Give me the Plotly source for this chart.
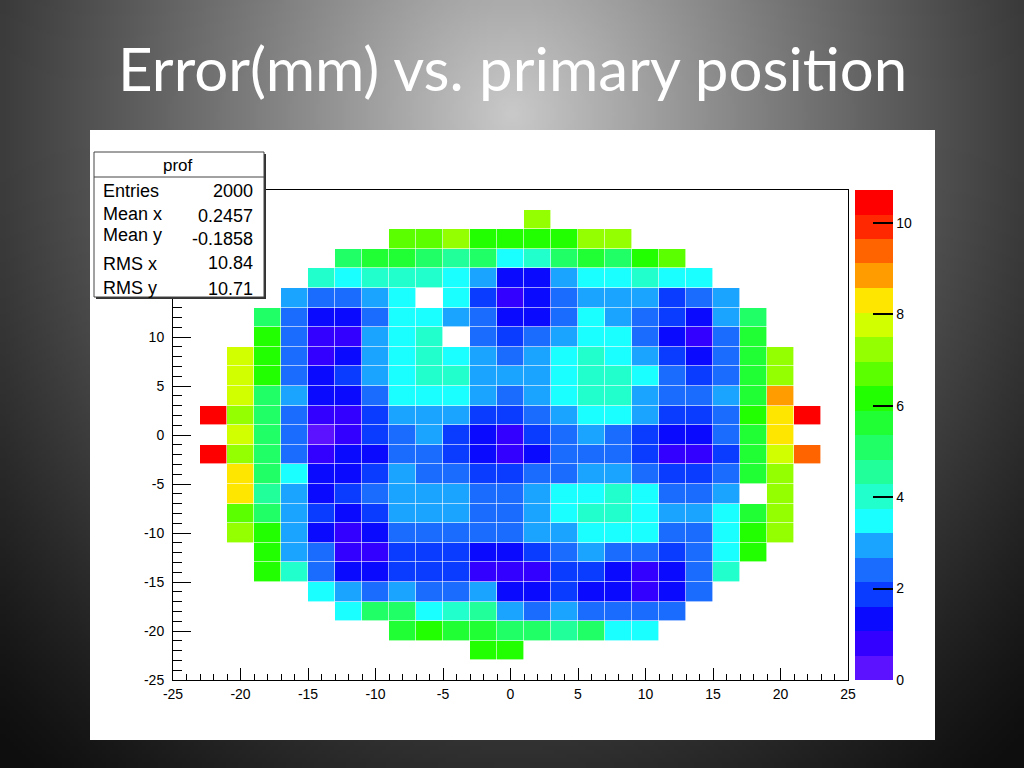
import base64
import struct
import zlib

import numpy as np
import plotly.graph_objects as go

N = None

# ---------------- data ----------------
x_centers = [-24, -22, -20, -18, -16, -14, -12, -10, -8, -6, -4, -2, 0,
             2, 4, 6, 8, 10, 12, 14, 16, 18, 20, 22, 24]
y_centers = [-24, -22, -20, -18, -16, -14, -12, -10, -8, -6, -4, -2, 0,
             2, 4, 6, 8, 10, 12, 14, 16, 18, 20, 22, 24]

# error (mm) per bin, one list per y bin, x from -24 to 24
z_y_m24 = [N, N, N, N, N, N, N, N, N, N, N, N, N, N, N, N, N, N, N, N, N, N, N, N, N]
z_y_m22 = [N, N, N, N, N, N, N, N, N, N, N, 6.2, 6.2, N, N, N, N, N, N, N, N, N, N, N, N]
z_y_m20 = [N, N, N, N, N, N, N, N, 5.6, 6.2, 5.6, 5.6, 5.1, 5.1, 4.6, 5.1, 3.5, 3.5, N, N, N, N, N, N, N]
z_y_m18 = [N, N, N, N, N, N, 3.5, 5.1, 5.1, 3.5, 4.0, 4.6, 2.9, 2.4, 2.9, 2.4, 2.4, 2.4, 2.4, N, N, N, N, N, N]
z_y_m16 = [N, N, N, N, N, 3.5, 2.9, 2.4, 2.9, 2.4, 2.4, 2.9, 1.3, 1.3, 1.9, 1.3, 1.3, 0.8, 1.3, 2.4, N, N, N, N, N]
z_y_m14 = [N, N, N, 6.2, 4.0, 2.4, 1.3, 1.3, 1.9, 1.9, 1.9, 0.8, 0.8, 0.8, 1.9, 1.9, 1.3, 0.8, 1.3, 2.4, 4.0, N, N, N, N]
z_y_m12 = [N, N, N, 6.2, 2.9, 2.4, 0.8, 0.8, 1.9, 1.9, 1.9, 1.3, 1.3, 1.9, 2.4, 2.9, 2.4, 2.4, 1.9, 2.4, 3.5, 6.2, N, N, N]
z_y_m10 = [N, N, 7.2, 6.2, 2.9, 1.3, 0.8, 1.3, 2.4, 2.4, 2.4, 2.4, 2.4, 2.9, 2.9, 3.5, 3.5, 3.5, 2.4, 2.4, 3.5, 6.2, 7.2, N, N]
z_y_m8 = [N, N, 6.7, 5.1, 2.9, 1.9, 1.3, 1.9, 2.9, 2.9, 2.9, 2.4, 2.4, 2.9, 3.5, 4.0, 4.0, 3.5, 2.9, 2.9, 3.5, 5.6, 7.2, N, N]
z_y_m6 = [N, N, 8.3, 4.6, 2.9, 1.3, 1.9, 2.4, 2.9, 2.9, 2.9, 2.4, 2.4, 2.9, 3.5, 3.5, 4.0, 3.5, 2.4, 2.4, 2.9, N, 7.2, N, N]
z_y_m4 = [N, N, 8.3, 5.1, 3.5, 1.3, 1.3, 1.9, 2.9, 2.4, 2.4, 1.9, 1.9, 2.4, 2.4, 2.9, 2.9, 2.4, 1.9, 1.9, 2.4, 5.6, 7.2, N, N]
z_y_m2 = [N, 10.5, 7.2, 5.1, 2.4, 0.8, 1.3, 1.3, 2.4, 2.4, 1.9, 1.3, 0.8, 1.3, 2.4, 2.4, 2.4, 1.9, 0.8, 0.8, 1.9, 5.6, 7.8, 9.4, N]
z_y_0 = [N, N, 7.8, 5.1, 2.4, 0.3, 0.8, 1.9, 2.4, 2.9, 1.9, 1.3, 0.8, 1.9, 2.4, 2.9, 2.4, 1.9, 1.3, 1.3, 2.4, 5.6, 8.3, N, N]
z_y_2 = [N, 10.5, 7.2, 5.1, 2.4, 0.8, 0.8, 1.9, 2.9, 2.9, 2.9, 1.9, 1.9, 2.4, 2.9, 3.5, 3.5, 2.9, 1.9, 1.9, 2.4, 6.2, 8.3, 10.5, N]
z_y_4 = [N, N, 7.8, 5.1, 2.9, 1.3, 1.3, 2.4, 3.5, 3.5, 3.5, 2.9, 2.4, 2.9, 3.5, 4.0, 4.0, 2.9, 2.4, 2.4, 2.9, 5.6, 8.8, N, N]
z_y_6 = [N, N, 7.8, 6.2, 2.4, 1.3, 1.9, 2.9, 3.5, 4.0, 4.0, 2.9, 2.9, 2.9, 3.5, 4.0, 4.0, 3.5, 2.4, 1.9, 2.4, 5.6, 7.2, N, N]
z_y_8 = [N, N, 7.8, 6.2, 2.4, 0.8, 1.3, 2.9, 3.5, 4.0, 3.5, 2.9, 2.4, 2.9, 3.5, 4.0, 3.5, 2.9, 1.9, 1.3, 2.4, 5.6, 7.2, N, N]
z_y_10 = [N, N, N, 6.2, 2.4, 0.8, 0.8, 2.9, 3.5, 4.0, N, 2.4, 1.9, 2.4, 2.9, 3.5, 3.5, 2.4, 1.3, 0.8, 2.4, 5.6, N, N, N]
z_y_12 = [N, N, N, 5.1, 2.4, 1.3, 1.3, 2.4, 3.5, 3.5, 2.9, 2.4, 1.3, 1.3, 2.4, 3.5, 2.9, 2.4, 1.9, 1.3, 2.9, 5.1, N, N, N]
z_y_14 = [N, N, N, N, 2.9, 2.4, 2.4, 2.9, 3.5, N, 3.5, 1.9, 0.8, 1.3, 2.4, 2.9, 2.9, 2.9, 1.9, 2.4, 2.9, N, N, N, N]
z_y_16 = [N, N, N, N, N, 4.0, 3.5, 4.0, 4.0, 4.0, 3.5, 2.9, 1.3, 1.3, 2.9, 3.5, 3.5, 4.0, 3.5, 3.5, N, N, N, N, N]
z_y_18 = [N, N, N, N, N, N, 5.1, 5.6, 5.6, 5.1, 4.6, 5.1, 3.5, 4.0, 5.1, 5.6, 5.1, 6.2, 6.7, N, N, N, N, N, N]
z_y_20 = [N, N, N, N, N, N, N, N, 6.7, 6.7, 7.2, 6.2, 6.2, 6.2, 6.2, 7.2, 7.2, N, N, N, N, N, N, N, N]
z_y_22 = [N, N, N, N, N, N, N, N, N, N, N, N, N, 7.2, N, N, N, N, N, N, N, N, N, N, N]
z_y_24 = [N, N, N, N, N, N, N, N, N, N, N, N, N, N, N, N, N, N, N, N, N, N, N, N, N]

z_rows = [z_y_m24, z_y_m22, z_y_m20, z_y_m18, z_y_m16, z_y_m14, z_y_m12, z_y_m10,
          z_y_m8, z_y_m6, z_y_m4, z_y_m2, z_y_0, z_y_2, z_y_4, z_y_6, z_y_8,
          z_y_10, z_y_12, z_y_14, z_y_16, z_y_18, z_y_20, z_y_22, z_y_24]

z_max = 10.72
x_tick_vals = [-25, -20, -15, -10, -5, 0, 5, 10, 15, 20, 25]
x_tick_text = ["-25", "-20", "-15", "-10", "-5", "0", "5", "10", "15", "20", "25"]
# labels 15..25 on the y axis sit under the statistics box in the reference
y_tick_vals = [-25, -20, -15, -10, -5, 0, 5, 10]
y_tick_text = ["-25", "-20", "-15", "-10", "-5", "0", "5", "10"]
cbar_tick_vals = [0, 2, 4, 6, 8, 10]
cbar_tick_text = ["0", "2", "4", "6", "8", "10"]

stat_title = "prof"
stat_labels = ["Entries", "Mean x", "Mean y", "RMS x", "RMS y"]
stat_values = ["2000", "0.2457", "-0.1858", "10.84", "10.71"]

title_text = "Error(mm) vs. primary position"

palette = ["#5c12ff", "#3300ff", "#0a0aff", "#0a3cff", "#1a6cff", "#1aa4ff",
           "#1affff", "#20ffcc", "#20ff99", "#20ff66", "#20ff33", "#22ff00",
           "#5cff00", "#94ff00", "#d2ff00", "#ffe600", "#ff9c00", "#ff6400",
           "#ff2800", "#ff0000"]

# ---------------- geometry helpers ----------------
W, H = 1024, 768


def px(x):
    return x / W


def py(y):
    return 1 - y / H


# ---------------- slide background (radial gradient PNG) ----------------
gw, gh = 256, 192
gx = (np.arange(gw) + 0.5) / gw * W
gy = (np.arange(gh) + 0.5) / gh * H
GX, GY = np.meshgrid(gx, gy)
t = np.sqrt(((GX - 512) / 760.0) ** 2 + ((GY - 115) / 860.0) ** 2)
v = 14 + 188 * np.clip(1 - t, 0, 1) ** 1.25
img = np.repeat(v[..., None], 3, axis=2).astype(np.uint8)


def png_bytes(arr):
    h, w, _ = arr.shape
    raw = b"".join(b"\x00" + arr[i].tobytes() for i in range(h))

    def chunk(tag, data):
        c = struct.pack(">I", len(data)) + tag + data
        return c + struct.pack(">I", zlib.crc32(tag + data) & 0xFFFFFFFF)

    return (b"\x89PNG\r\n\x1a\n"
            + chunk(b"IHDR", struct.pack(">IIBBBBB", w, h, 8, 2, 0, 0, 0))
            + chunk(b"IDAT", zlib.compress(raw, 9))
            + chunk(b"IEND", b""))


bg_uri = "data:image/png;base64," + base64.b64encode(png_bytes(img)).decode()

# ---------------- colorscale ----------------
n = len(palette)
colorscale = []
for i, c in enumerate(palette):
    colorscale.append([i / n, c])
    colorscale.append([(i + 1) / n, c])

FONT = "Liberation Sans, Arial, sans-serif"

fig = go.Figure()
fig.add_trace(go.Heatmap(
    x=x_centers, y=y_centers, z=z_rows,
    zmin=0, zmax=z_max, colorscale=colorscale,
    xgap=0.6, ygap=0.6, hoverongaps=False,
    colorbar=dict(
        x=px(855), xanchor="left", xpad=0,
        y=py(435), yanchor="middle", ypad=0,
        len=490, lenmode="pixels",
        thickness=38, thicknessmode="pixels",
        outlinewidth=0,
        tickvals=cbar_tick_vals, ticktext=cbar_tick_text,
        ticks="inside", ticklen=20, tickcolor="black", tickwidth=1.5,
        tickfont=dict(family=FONT, size=14, color="black"),
    ),
))

fig.update_xaxes(
    domain=[px(173), px(848)], range=[-25, 25],
    tickvals=x_tick_vals, ticktext=x_tick_text,
    ticks="inside", ticklen=12, tickcolor="black", tickwidth=1,
    minor=dict(ticks="inside", ticklen=6, dtick=1, tick0=-25, tickcolor="black"),
    showline=True, linecolor="black", linewidth=1, mirror=True,
    showgrid=False, zeroline=False, ticklabelstandoff=1,
    tickfont=dict(family=FONT, size=14, color="black"),
)
fig.update_yaxes(
    domain=[py(680), py(190)], range=[-25, 25],
    tickvals=y_tick_vals, ticktext=y_tick_text,
    ticks="inside", ticklen=18, tickcolor="black", tickwidth=1,
    minor=dict(ticks="inside", ticklen=9, dtick=1, tick0=-25, tickcolor="black"),
    showline=True, linecolor="black", linewidth=1, mirror=True,
    showgrid=False, zeroline=False, ticklabelstandoff=5,
    tickfont=dict(family=FONT, size=14, color="black"),
)

shapes = [
    # white slide panel
    dict(type="rect", xref="paper", yref="paper", layer="below",
         x0=px(90), x1=px(935), y0=py(740), y1=py(130),
         fillcolor="white", line=dict(width=0)),
    # stats box shadow
    dict(type="rect", xref="paper", yref="paper", layer="above",
         x0=px(96), x1=px(266), y0=py(299), y1=py(154),
         fillcolor="#333333", line=dict(width=0)),
    # stats box
    dict(type="rect", xref="paper", yref="paper", layer="above",
         x0=px(94), x1=px(264), y0=py(297), y1=py(152),
         fillcolor="white", line=dict(color="#444444", width=1)),
    dict(type="line", xref="paper", yref="paper", layer="above",
         x0=px(94), x1=px(264), y0=py(177), y1=py(177),
         line=dict(color="#444444", width=1)),
]

annotations = [
    dict(text=title_text, x=px(512), y=py(68), xref="paper", yref="paper",
         showarrow=False, xanchor="center", yanchor="middle",
         font=dict(family="Lato, Open Sans, sans-serif", size=60, color="white")),
    dict(text=stat_title, x=px(178), y=py(165), xref="paper", yref="paper",
         showarrow=False, xanchor="center", yanchor="middle",
         font=dict(family=FONT, size=17, color="black")),
]
label_y = [191, 214, 235, 264, 288]
value_y = [191, 216, 239, 263, 289]
for lab, ly in zip(stat_labels, label_y):
    annotations.append(dict(text=lab, x=px(101), y=py(ly), xref="paper", yref="paper",
                            showarrow=False, xanchor="left", yanchor="middle",
                            font=dict(family=FONT, size=18, color="black")))
for val, vy in zip(stat_values, value_y):
    annotations.append(dict(text=val, x=px(255), y=py(vy), xref="paper", yref="paper",
                            showarrow=False, xanchor="right", yanchor="middle",
                            font=dict(family=FONT, size=18, color="black")))

fig.update_layout(
    width=W, height=H,
    margin=dict(l=0, r=0, t=0, b=0, pad=0, autoexpand=False),
    paper_bgcolor="#1c1c1c",
    plot_bgcolor="white",
    showlegend=False,
    shapes=shapes,
    annotations=annotations,
    images=[dict(source=bg_uri, xref="paper", yref="paper", x=0, y=1,
                 sizex=1, sizey=1, xanchor="left", yanchor="top",
                 sizing="stretch", layer="below")],
)

fig.write_html("out.html", config={"displayModeBar": False},
               post_script="document.body.style.margin='0';document.body.style.overflow='hidden';")
